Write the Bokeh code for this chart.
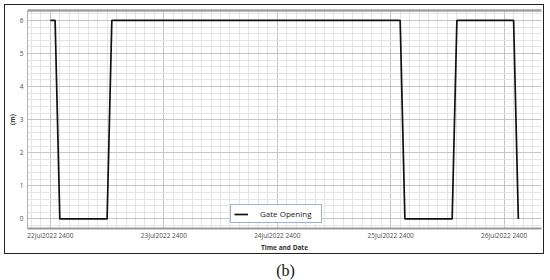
from bokeh.plotting import figure
from bokeh.models import (FixedTicker, LinearAxis, Legend, LegendItem, Label, Range1d, Grid)
from bokeh.layouts import column
from bokeh.embed import file_html
from bokeh.resources import INLINE
import numpy as np

# ---- data (hours after 22Jul2022 2400) ----
hours = [0, 1, 2, 12, 13, 74, 75, 85, 86, 98, 99]
gate_opening = [6, 6, 0, 0, 6, 6, 0, 0, 6, 6, 0]
tick_hours = [0, 24, 48, 72, 96]
tick_labels = ["22Jul2022 2400", "23Jul2022 2400", "24Jul2022 2400",
               "25Jul2022 2400", "26Jul2022 2400"]
y_ticks = [0, 1, 2, 3, 4, 5, 6]

FONT = "Open Sans"

p = figure(width=540, height=250, output_backend="svg", toolbar_location=None,
           x_range=Range1d(-4.84, 103.9), y_range=Range1d(-0.29, 6.30),
           min_border_left=21, min_border_right=3, min_border_top=6,
           min_border_bottom=24, x_axis_type=None, y_axis_type=None)
p.margin = (4, 6, 0, 4)
p.styles = {"outline": "1.5px solid #222222", "outline-offset": "-1.5px"}
p.outline_line_color = None
p.background_fill_color = "white"
p.border_fill_alpha = 0

xt = FixedTicker(ticks=tick_hours, minor_ticks=list(range(-4, 104, 2)))
yt = FixedTicker(ticks=y_ticks, minor_ticks=[round(v, 1) for v in np.arange(-0.2, 6.3, 0.2)])

xaxis = LinearAxis(ticker=xt, axis_label="Time and Date",
                   major_label_overrides={t: l for t, l in zip(tick_hours, tick_labels)})
yaxis = LinearAxis(ticker=yt, axis_label="(m)")
top_axis = LinearAxis(ticker=FixedTicker(ticks=[]), major_label_text_alpha=0)
p.add_layout(xaxis, "below")
p.add_layout(yaxis, "left")
p.add_layout(top_axis, "above")

for ax in (xaxis, yaxis, top_axis):
    ax.major_tick_in = 0
    ax.major_tick_out = 0
    ax.minor_tick_in = 0
    ax.minor_tick_out = 0
    ax.major_label_text_font = FONT
    ax.major_label_text_font_size = "6.5px"
    ax.major_label_text_color = "#4a4a4a"
    ax.axis_label_text_font = FONT
    ax.axis_label_text_font_size = "6.5px"
    ax.axis_label_text_font_style = "bold"
    ax.axis_label_text_color = "#333333"

xaxis.axis_line_color = "#9a9a9a"
xaxis.axis_line_width = 2
xaxis.major_label_standoff = 2
xaxis.axis_label_standoff = 0
yaxis.axis_line_color = "#b0b0b0"
yaxis.axis_line_width = 1
yaxis.major_label_standoff = 4
yaxis.axis_label_standoff = 0
top_axis.axis_line_color = "#a0a0a0"
top_axis.axis_line_width = 2.5

gx = Grid(dimension=0, ticker=xt, grid_line_color="#c4c4c4", grid_line_width=1,
          minor_grid_line_color="#e4e4e4", minor_grid_line_width=1)
gy = Grid(dimension=1, ticker=yt, grid_line_color="#c4c4c4", grid_line_width=1,
          minor_grid_line_color="#e4e4e4", minor_grid_line_width=1)
p.add_layout(gx)
p.add_layout(gy)

r = p.line(hours, gate_opening, line_color="#111111", line_width=1.7)

legend = Legend(items=[LegendItem(label="Gate Opening", renderers=[r])],
                location=(203, 5), orientation="horizontal",
                border_line_color="#4d6282", border_line_width=1.2,
                background_fill_color="white", background_fill_alpha=1,
                label_text_font=FONT, label_text_font_size="8px",
                label_text_color="#222222", padding=3, spacing=0, margin=0,
                glyph_width=14, glyph_height=10, label_height=10,
                label_standoff=12, label_width=58)
p.add_layout(legend, "center")

# caption below the framed chart
cap = figure(width=550, height=26, output_backend="svg", toolbar_location=None,
             x_range=Range1d(0, 1), y_range=Range1d(0, 1),
             min_border=0, x_axis_type=None, y_axis_type=None)
cap.outline_line_color = None
cap.xgrid.visible = False
cap.ygrid.visible = False
cap.add_layout(Label(x=0.5, y=0.38, text="(b)", text_align="center",
                     text_baseline="middle", text_font="Liberation Serif",
                     text_font_size="16px", text_color="#111111"))

layout = column(p, cap, spacing=0)
open("out.html", "w").write(file_html(layout, INLINE))
